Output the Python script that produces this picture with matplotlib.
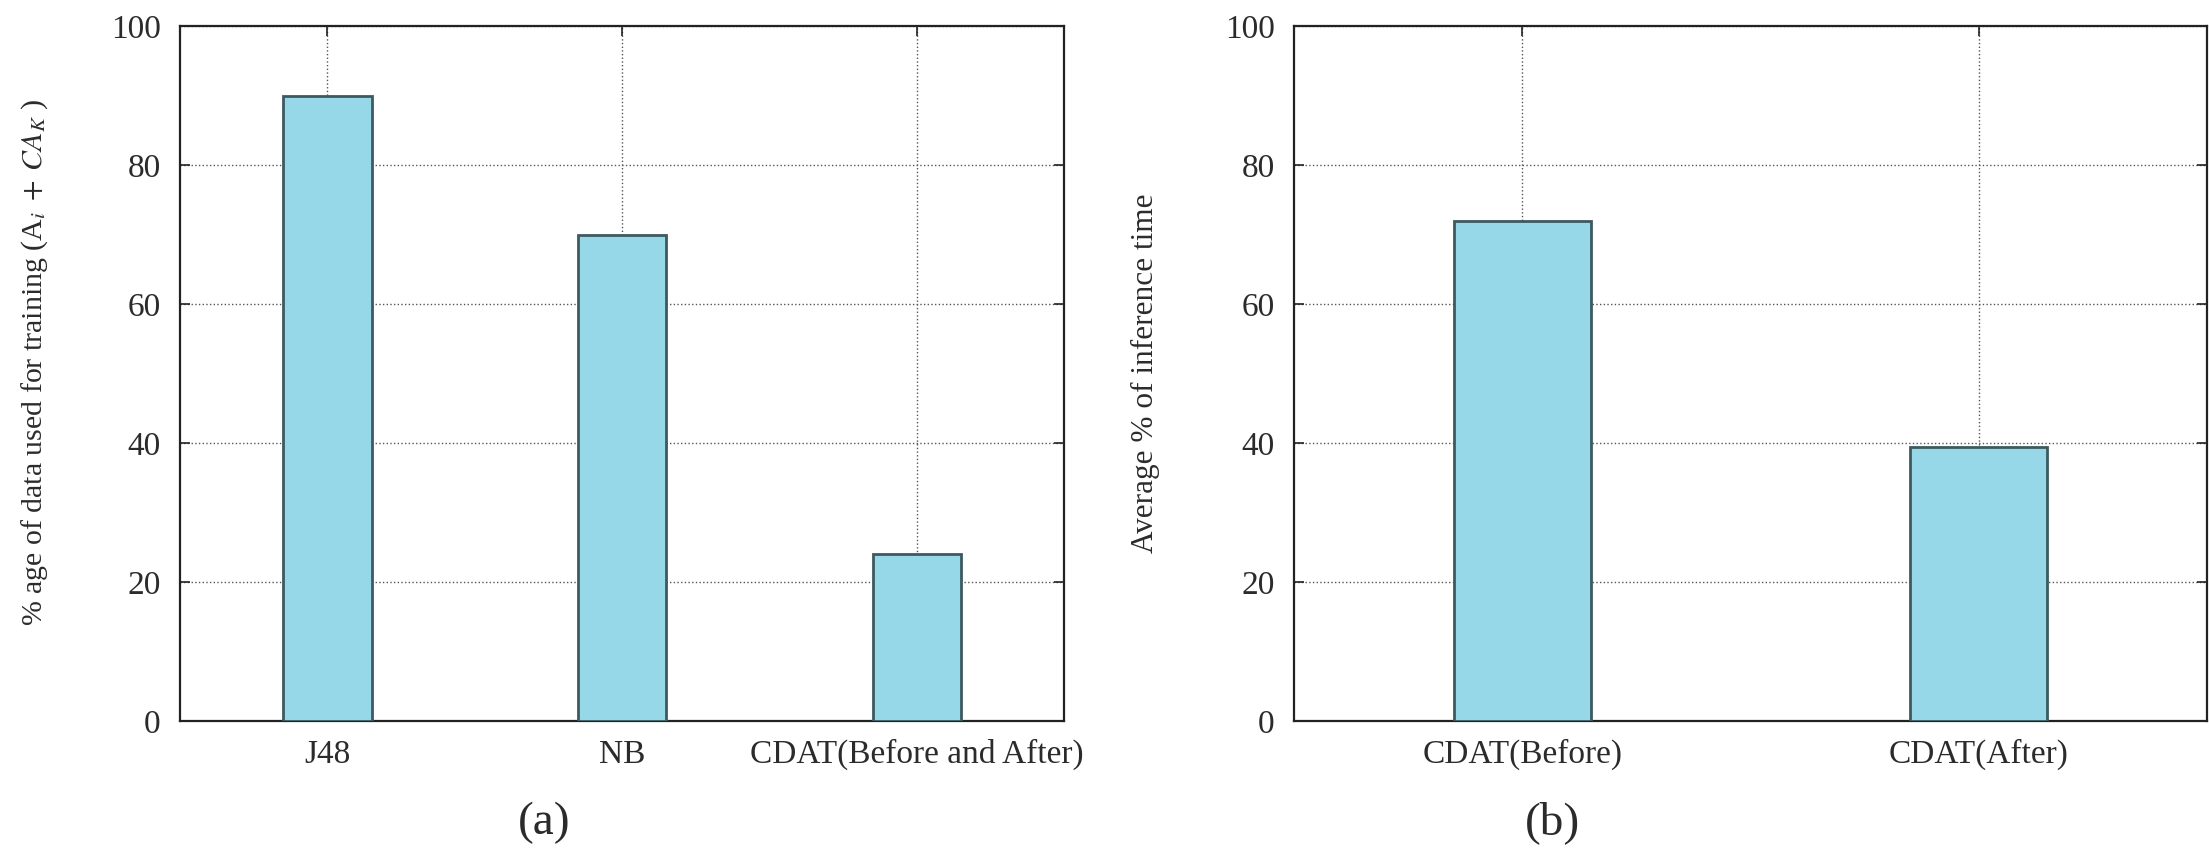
import matplotlib
matplotlib.use("Agg")
import matplotlib.pyplot as plt
import numpy as np

# panel (a): share of data needed for training
methods_a = ["J48", "NB", "CDAT(Before and After)"]
train_pct = [90, 70, 24]

# panel (b): average inference time
methods_b = ["CDAT(Before)", "CDAT(After)"]
infer_pct = [72, 39.5]

y_ticks = [0, 20, 40, 60, 80, 100]

plt.rcParams["font.family"] = ["Liberation Serif", "DejaVu Serif"]
plt.rcParams["mathtext.fontset"] = "stix"

BAR_FILL = "#97d8e8"
BAR_EDGE = "#3c5a60"
TEXT_COL = "#2b2b2b"


def style_axes(ax, labels):
    x = np.arange(len(labels))
    ax.set_xticks(x)
    ax.set_xticklabels(labels)
    ax.set_xlim(-0.5, len(labels) - 0.5)
    ax.set_ylim(0, 100)
    ax.set_yticks(y_ticks)
    ax.set_axisbelow(True)
    ax.grid(True, linestyle=":", color="#555555", linewidth=1.0)
    ax.tick_params(direction="in", length=7, width=1.2, top=True, right=True,
                   labelsize=24, colors="#222222", labelcolor=TEXT_COL)
    ax.tick_params(axis="x", pad=13)
    ax.tick_params(axis="y", pad=14)
    for s in ax.spines.values():
        s.set_linewidth(1.6)
        s.set_color("#222222")
    return x


fig = plt.figure(figsize=(22.09, 8.52), dpi=100)

ax1 = fig.add_axes([0.0815, 0.1537, 0.4002, 0.8157])
x1 = style_axes(ax1, methods_a)
ax1.bar(x1, train_pct, width=0.30, color=BAR_FILL, edgecolor=BAR_EDGE,
        linewidth=2.0, zorder=3)
ax1.set_ylabel(r"% age of data used for training (A$_i\;+\;CA_K$ )",
               fontsize=21.5, color=TEXT_COL)
ax1.yaxis.set_label_coords(-0.147, 0.516)

ax2 = fig.add_axes([0.5858, 0.1537, 0.4133, 0.8157])
x2 = style_axes(ax2, methods_b)
ax2.bar(x2, infer_pct, width=0.30, color=BAR_FILL, edgecolor=BAR_EDGE,
        linewidth=2.0, zorder=3)
ax2.set_ylabel("Average % of inference time", fontsize=22.5, color=TEXT_COL)
ax2.yaxis.set_label_coords(-0.147, 0.5)

fig.text(0.2463, 0.034, "(a)", fontsize=34, ha="center", va="center",
         color=TEXT_COL)
fig.text(0.703, 0.034, "(b)", fontsize=34, ha="center", va="center",
         color=TEXT_COL)

fig.savefig("out.png", dpi=100)
